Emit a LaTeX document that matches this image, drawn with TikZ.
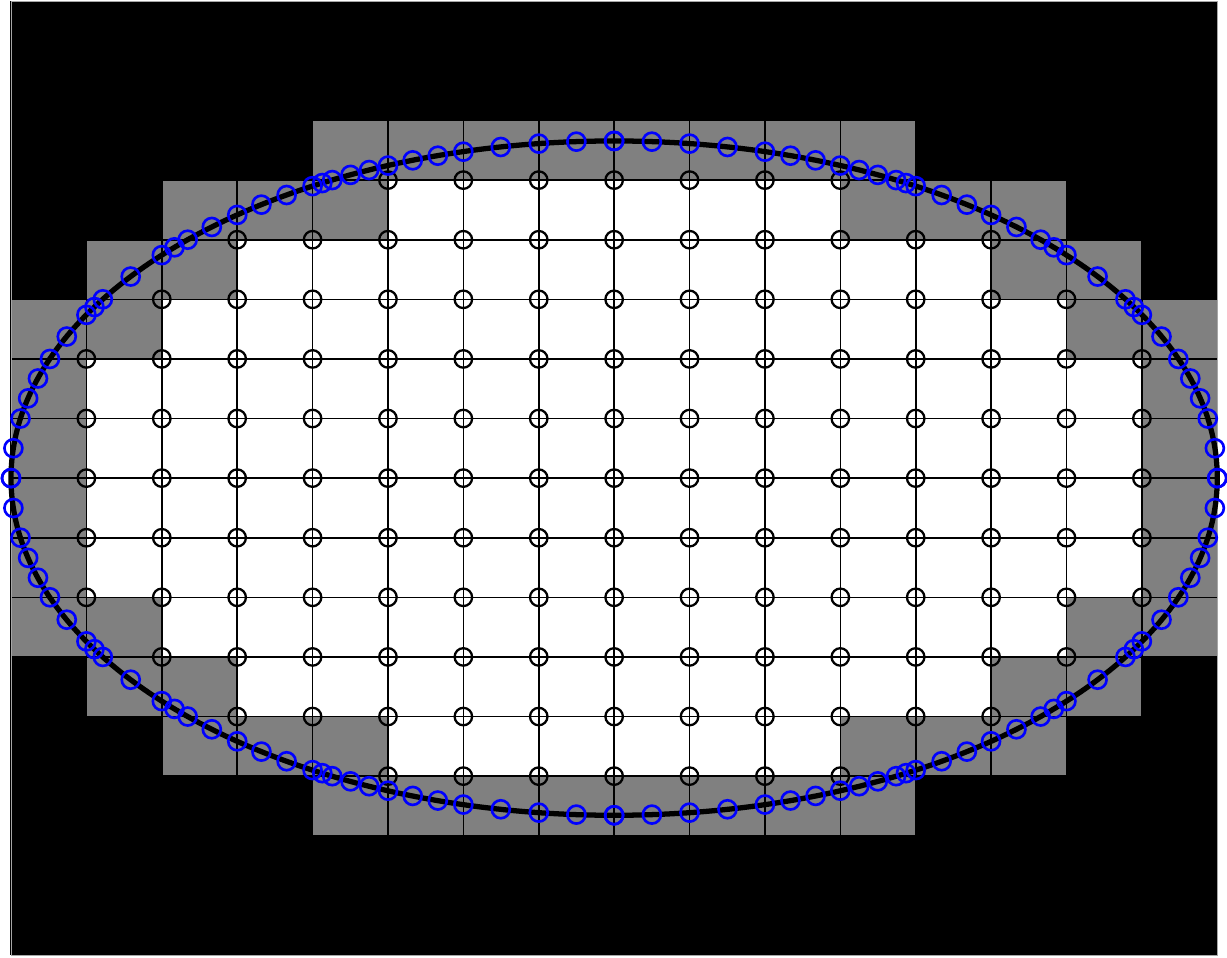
\documentclass[tikz,border=0pt]{standalone}
\begin{document}
\begin{tikzpicture}[x=1.5078cm, y=1.192cm,
    gridpt/.style={draw=black, line width=1.3pt},
    bndpt/.style={draw=blue, line width=1.5pt}]
    \useasboundingbox (-0.1459,-0.0503) rectangle (16.129,16.022);
    \fill[white] (-0.1459,-0.0503) rectangle (16.129,16.022);

    % cells: outside, cut, inside
    \fill[black] (0,0) rectangle (16,16);
    \fill[gray] (4,14) -- (12,14) -- (12,13) -- (14,13) -- (14,12) -- (15,12) -- (15,11)
        -- (16,11) -- (16,5) -- (15,5) -- (15,4) -- (14,4) -- (14,3) -- (12,3) -- (12,2)
        -- (4,2) -- (4,3) -- (2,3) -- (2,4) -- (1,4) -- (1,5) -- (0,5) -- (0,11) -- (1,11)
        -- (1,12) -- (2,12) -- (2,13) -- (4,13) -- cycle;
    \fill[white] (5,13) -- (11,13) -- (11,12) -- (13,12) -- (13,11) -- (14,11) -- (14,10)
        -- (15,10) -- (15,6) -- (14,6) -- (14,5) -- (13,5) -- (13,4) -- (11,4) -- (11,3)
        -- (5,3) -- (5,4) -- (3,4) -- (3,5) -- (2,5) -- (2,6) -- (1,6) -- (1,10) -- (2,10)
        -- (2,11) -- (3,11) -- (3,12) -- (5,12) -- cycle;
    \foreach \i in {0,...,16} {
        \draw[black, line width=0.9pt] (\i,0) -- (\i,16);
        \draw[black, line width=0.9pt] (0,\i) -- (16,\i);
    }
    \draw[gray!70, line width=0.5pt] (0,0) rectangle (16,16);

    % interior grid points
    \foreach \y/\a/\b in {13/5/11, 12/3/13, 11/2/14, 10/1/15, 9/1/15, 8/1/15,
                          7/1/15, 6/1/15, 5/2/14, 4/3/13, 3/5/11} {
        \foreach \x in {\a,...,\b} {
            \draw[gridpt] (\x,\y) circle[radius=0.175cm];
        }
    }

    \draw[line width=3pt] (8,8) ellipse[x radius=8, y radius=5.65685];

    % boundary points, one quadrant mirrored
    \foreach \t in {90, 93.59, 97.18, 100.83, 104.48, 107.00, 109.51, 112.02, 113.97,
                    115.92, 117.87, 118.94, 120, 122.89, 125.79, 128.68, 131.84, 135,
                    136.80, 138.59, 143.28, 147.97, 149.51, 151.04, 155.17, 159.30,
                    162.81, 166.31, 169.82, 174.91, 180} {
        \foreach \sx/\sy in {1/1, -1/1, 1/-1, -1/-1} {
            \draw[bndpt] ({8+\sx*8*cos(\t)},{8+\sy*5.65685*sin(\t)}) circle[radius=0.18cm];
        }
    }
\end{tikzpicture}
\end{document}
